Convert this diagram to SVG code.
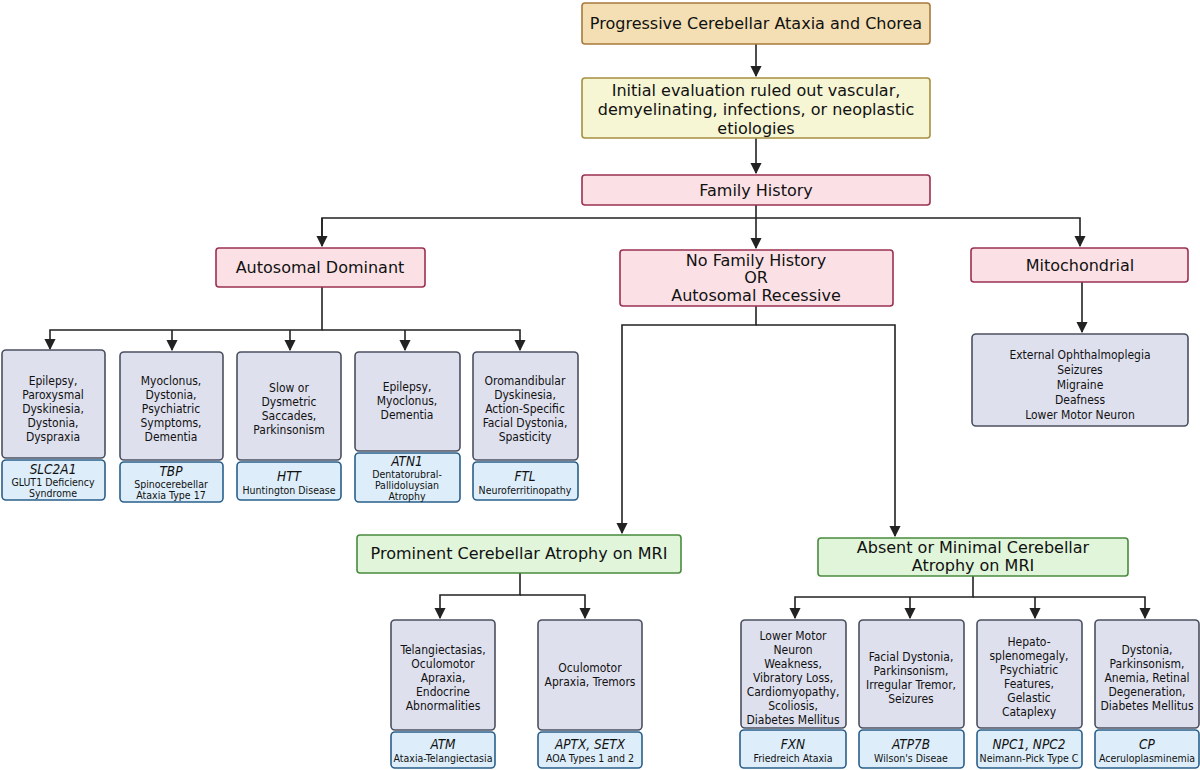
<svg xmlns="http://www.w3.org/2000/svg" width="1200" height="770" viewBox="0 0 1200 770">
<defs><marker id="a" viewBox="0 0 10 10" refX="9" refY="5" markerWidth="7" markerHeight="7" orient="auto"><path d="M0,0L10,5L0,10z" fill="#222"/></marker></defs>
<style>
text{font-family:"DejaVu Sans Condensed","DejaVu Sans",sans-serif;fill:#111;text-anchor:middle}
.t{font-size:16px;font-family:"DejaVu Sans",sans-serif}.s{font-size:12px}.g{font-size:13.5px;font-style:italic}.x{font-size:10.5px}
.sym{fill:#dfe0ee;stroke:#4a5060;stroke-width:1.6}
.gene{fill:#ddeefa;stroke:#2a5f8a;stroke-width:1.6}
.pk{fill:#fbe1e6;stroke:#9b3050;stroke-width:1.6}
.gr{fill:#e0f5d9;stroke:#4a8a3e;stroke-width:1.6}
.c{fill:none;stroke:#222;stroke-width:1.6}
</style>
<rect width="1200" height="770" fill="#fff"/>
<g id="connectors">
<path class="c" d="M756,44V76" marker-end="url(#a)"/>
<path class="c" d="M756,138V173" marker-end="url(#a)"/>
<path class="c" d="M756,218H322V246M756,218H1080V246" marker-end="url(#a)"/>
<path class="c" d="M322,218V246" marker-end="url(#a)"/>
<path class="c" d="M756,205V248" marker-end="url(#a)"/>
<path class="c" d="M322,287V330H50V349" marker-end="url(#a)"/>
<path class="c" d="M322,330H520V350" marker-end="url(#a)"/>
<path class="c" d="M172,330V350" marker-end="url(#a)"/>
<path class="c" d="M290,330V350" marker-end="url(#a)"/>
<path class="c" d="M405,330V350" marker-end="url(#a)"/>
<path class="c" d="M1082,282V332" marker-end="url(#a)"/>
<path class="c" d="M756,306V325H622V533" marker-end="url(#a)"/>
<path class="c" d="M756,325H895V536" marker-end="url(#a)"/>
<path class="c" d="M520,573V595H440V618" marker-end="url(#a)"/>
<path class="c" d="M520,595H585V618" marker-end="url(#a)"/>
<path class="c" d="M973,576V597H795V618" marker-end="url(#a)"/>
<path class="c" d="M973,597H1145V618" marker-end="url(#a)"/>
<path class="c" d="M910,597V618" marker-end="url(#a)"/>
<path class="c" d="M1035,597V618" marker-end="url(#a)"/>
</g>
<g id="top"><rect x="582" y="3" width="348" height="41" rx="3" fill="#f3dfb3" stroke="#a77a3b" stroke-width="1.6"/><text class="t" x="756" y="29">Progressive Cerebellar Ataxia and Chorea</text></g>
<g id="eval"><rect x="582" y="78" width="348" height="60" rx="3" fill="#f6f5d4" stroke="#a59040" stroke-width="1.6"/><text class="t" x="756" y="96">Initial evaluation ruled out vascular,</text><text class="t" x="756" y="115">demyelinating, infections, or neoplastic</text><text class="t" x="756" y="134">etiologies</text></g>
<g id="fh"><rect class="pk" x="582" y="175" width="348" height="30" rx="3"/><text class="t" x="756" y="196">Family History</text></g>
<g id="ad"><rect class="pk" x="216" y="248" width="209" height="39" rx="3"/><text class="t" x="320" y="273">Autosomal Dominant</text></g>
<g id="nfh"><rect class="pk" x="620" y="250" width="273" height="56" rx="3"/><text class="t" x="756" y="266">No Family History</text><text class="t" x="756" y="283">OR</text><text class="t" x="756" y="301">Autosomal Recessive</text></g>
<g id="mito"><rect class="pk" x="971" y="248" width="217" height="34" rx="3"/><text class="t" x="1080" y="271">Mitochondrial</text></g>
<g id="mitobox"><rect class="sym" x="972" y="334" width="216" height="92" rx="4"/><text class="s" x="1080" y="359">External Ophthalmoplegia</text><text class="s" x="1080" y="374">Seizures</text><text class="s" x="1080" y="389">Migraine</text><text class="s" x="1080" y="404">Deafness</text><text class="s" x="1080" y="419">Lower Motor Neuron</text></g>
<g id="ad1"><rect class="sym" x="2" y="350" width="103" height="108" rx="4"/><text class="s" x="53" y="385">Epilepsy,</text><text class="s" x="53" y="399">Paroxysmal</text><text class="s" x="53" y="413">Dyskinesia,</text><text class="s" x="53" y="427">Dystonia,</text><text class="s" x="53" y="441">Dyspraxia</text>
<rect class="gene" x="2" y="460" width="103" height="40" rx="4"/><text class="g" x="53" y="474">SLC2A1</text><text class="x" x="53" y="486">GLUT1 Deficiency</text><text class="x" x="53" y="497">Syndrome</text></g>
<g id="ad2"><rect class="sym" x="120" y="352" width="103" height="108" rx="4"/><text class="s" x="171" y="385">Myoclonus,</text><text class="s" x="171" y="399">Dystonia,</text><text class="s" x="171" y="413">Psychiatric</text><text class="s" x="171" y="427">Symptoms,</text><text class="s" x="171" y="441">Dementia</text>
<rect class="gene" x="120" y="462" width="103" height="40" rx="4"/><text class="g" x="171" y="476">TBP</text><text class="x" x="171" y="488">Spinocerebellar</text><text class="x" x="171" y="499">Ataxia Type 17</text></g>
<g id="ad3"><rect class="sym" x="237" y="352" width="104" height="108" rx="4"/><text class="s" x="289" y="392">Slow or</text><text class="s" x="289" y="406">Dysmetric</text><text class="s" x="289" y="420">Saccades,</text><text class="s" x="289" y="434">Parkinsonism</text>
<rect class="gene" x="237" y="462" width="104" height="38" rx="4"/><text class="g" x="289" y="481">HTT</text><text class="x" x="289" y="494">Huntington Disease</text></g>
<g id="ad4"><rect class="sym" x="355" y="352" width="105" height="99" rx="4"/><text class="s" x="407" y="391">Epilepsy,</text><text class="s" x="407" y="405">Myoclonus,</text><text class="s" x="407" y="419">Dementia</text>
<rect class="gene" x="355" y="453" width="105" height="49" rx="4"/><text class="g" x="407" y="466">ATN1</text><text class="x" x="407" y="478">Dentatorubral-</text><text class="x" x="407" y="489">Pallidoluysian</text><text class="x" x="407" y="500">Atrophy</text></g>
<g id="ad5"><rect class="sym" x="473" y="352" width="105" height="108" rx="4"/><text class="s" x="525" y="385">Oromandibular</text><text class="s" x="525" y="399">Dyskinesia,</text><text class="s" x="525" y="413">Action-Specific</text><text class="s" x="525" y="427">Facial Dystonia,</text><text class="s" x="525" y="441">Spasticity</text>
<rect class="gene" x="473" y="462" width="105" height="38" rx="4"/><text class="g" x="525" y="481">FTL</text><text class="x" x="525" y="494">Neuroferritinopathy</text></g>
<g id="prom"><rect class="gr" x="357" y="535" width="324" height="38" rx="3"/><text class="t" x="519" y="559">Prominent Cerebellar Atrophy on MRI</text></g>
<g id="abs"><rect class="gr" x="818" y="538" width="310" height="38" rx="3"/><text class="t" x="973" y="553">Absent or Minimal Cerebellar</text><text class="t" x="973" y="571">Atrophy on MRI</text></g>
<g id="p1"><rect class="sym" x="391" y="620" width="104" height="110" rx="4"/><text class="s" x="443" y="654">Telangiectasias,</text><text class="s" x="443" y="668">Oculomotor</text><text class="s" x="443" y="682">Apraxia,</text><text class="s" x="443" y="696">Endocrine</text><text class="s" x="443" y="710">Abnormalities</text>
<rect class="gene" x="391" y="732" width="104" height="36" rx="4"/><text class="g" x="443" y="749">ATM</text><text class="x" x="443" y="762">Ataxia-Telangiectasia</text></g>
<g id="p2"><rect class="sym" x="538" y="620" width="104" height="110" rx="4"/><text class="s" x="590" y="672">Oculomotor</text><text class="s" x="590" y="686">Apraxia, Tremors</text>
<rect class="gene" x="538" y="732" width="104" height="36" rx="4"/><text class="g" x="590" y="749">APTX, SETX</text><text class="x" x="590" y="762">AOA Types 1 and 2</text></g>
<g id="a1"><rect class="sym" x="741" y="620" width="105" height="108" rx="4"/><text class="s" x="793" y="640">Lower Motor</text><text class="s" x="793" y="654">Neuron</text><text class="s" x="793" y="668">Weakness,</text><text class="s" x="793" y="682">Vibratory Loss,</text><text class="s" x="793" y="696">Cardiomyopathy,</text><text class="s" x="793" y="710">Scoliosis,</text><text class="s" x="793" y="724">Diabetes Mellitus</text>
<rect class="gene" x="740" y="730" width="106" height="38" rx="4"/><text class="g" x="793" y="749">FXN</text><text class="x" x="793" y="762">Friedreich Ataxia</text></g>
<g id="a2"><rect class="sym" x="859" y="620" width="105" height="108" rx="4"/><text class="s" x="911" y="661">Facial Dystonia,</text><text class="s" x="911" y="675">Parkinsonism,</text><text class="s" x="911" y="689">Irregular Tremor,</text><text class="s" x="911" y="703">Seizures</text>
<rect class="gene" x="859" y="730" width="105" height="38" rx="4"/><text class="g" x="911" y="749">ATP7B</text><text class="x" x="911" y="762">Wilson's Diseae</text></g>
<g id="a3"><rect class="sym" x="977" y="620" width="105" height="108" rx="4"/><text class="s" x="1029" y="646">Hepato-</text><text class="s" x="1029" y="660">splenomegaly,</text><text class="s" x="1029" y="674">Psychiatric</text><text class="s" x="1029" y="688">Features,</text><text class="s" x="1029" y="702">Gelastic</text><text class="s" x="1029" y="716">Cataplexy</text>
<rect class="gene" x="977" y="730" width="105" height="38" rx="4"/><text class="g" x="1029" y="749">NPC1, NPC2</text><text class="x" x="1029" y="762">Neimann-Pick Type C</text></g>
<g id="a4"><rect class="sym" x="1095" y="620" width="104" height="108" rx="4"/><text class="s" x="1147" y="654">Dystonia,</text><text class="s" x="1147" y="668">Parkinsonism,</text><text class="s" x="1147" y="682">Anemia, Retinal</text><text class="s" x="1147" y="696">Degeneration,</text><text class="s" x="1147" y="710">Diabetes Mellitus</text>
<rect class="gene" x="1095" y="730" width="104" height="38" rx="4"/><text class="g" x="1147" y="749">CP</text><text class="x" x="1147" y="762">Aceruloplasminemia</text></g>
</svg>
